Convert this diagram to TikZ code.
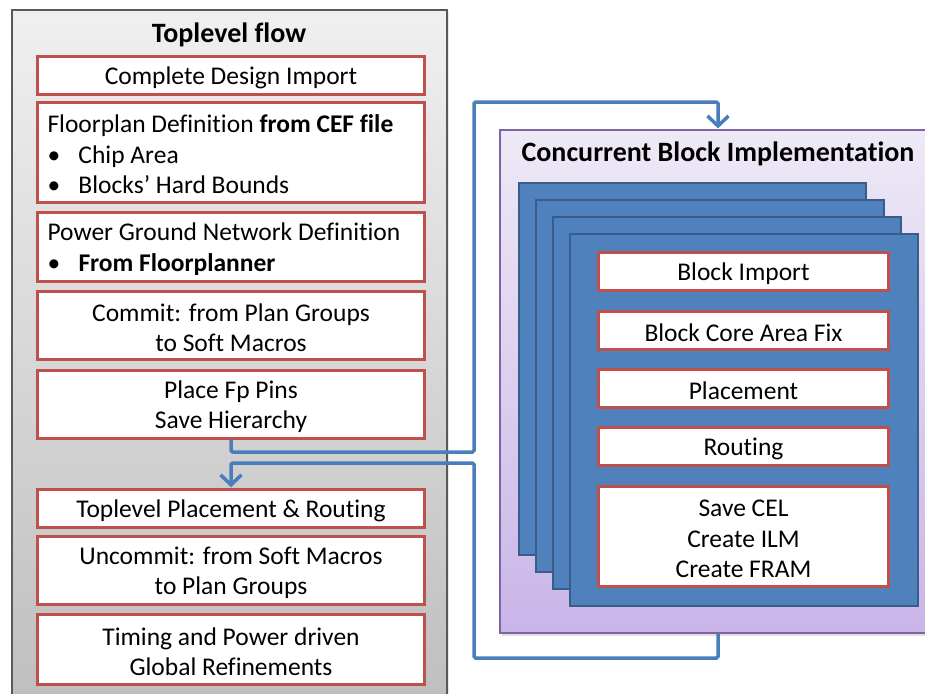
\documentclass[tikz,border=0pt]{standalone}
\usepackage{fontspec}
\setmainfont{Carlito}[Ligatures=NoCommon]
\usetikzlibrary{arrows.meta,shadows}

\definecolor{boxred}{HTML}{C0504D}
\definecolor{blockblue}{HTML}{4F81BD}
\definecolor{blockedge}{HTML}{385D8A}
\definecolor{flowblue}{HTML}{4A7EBB}
\definecolor{panelpurple}{HTML}{8064A2}
\definecolor{panelgray}{HTML}{595959}
\definecolor{lavtop}{HTML}{EEE9F6}
\definecolor{lavbottom}{HTML}{C9B5E8}

\begin{document}
\begin{tikzpicture}[x=1pt,y=-1pt,
  txt/.style={font=\fontsize{25.5}{30.5}\selectfont},
  stepbox/.style={txt, draw=boxred, line width=2.5pt, fill=white,
    inner sep=0pt, align=flush center, text height=22pt},
  wide/.style={minimum width=387pt, text width=367pt},
  narrow/.style={minimum width=290pt, text width=270pt},
  leftbox/.style={stepbox, wide, align=flush left},
  titletxt/.style={font=\fontsize{28}{32}\selectfont\bfseries, inner sep=0pt},
  stackbox/.style={draw=blockedge, line width=2pt, fill=blockblue},
  flow/.style={draw=flowblue, line width=3.5pt, rounded corners=1.5pt,
    -{Straight Barb[length=10pt,width=21pt]}, shorten >=1pt},
]
\useasboundingbox (0,0) rectangle (925,693);

% ---------- panels ----------
\node[draw=panelgray, line width=1.5pt, top color=black!6, bottom color=black!26,
  minimum width=435pt, minimum height=720pt, inner sep=0pt,
  drop shadow={opacity=0.18, shadow xshift=2pt, shadow yshift=-1pt}]
  (flowpanel) at (229.5,370) {};
\node[titletxt] (flowtitle) at (229,34.5) {Toplevel flow};

\node[draw=panelpurple, line width=1.2pt, top color=lavtop, bottom color=lavbottom,
  minimum width=436pt, minimum height=503pt, inner sep=0pt,
  drop shadow={opacity=0.25, shadow xshift=2pt, shadow yshift=-3pt}]
  (cbi) at (718,381.5) {};
\node[titletxt] (cbititle) at (718,154) {Concurrent Block Implementation};

% ---------- toplevel steps ----------
\node[stepbox, wide, minimum height=38pt] (import) at (231,75.5)
  {Complete Design Import};
\node[leftbox, minimum height=100pt] (floorplan) at (231,152.5)
  {Floorplan Definition \textbf{from CEF file}\\
   \makebox[31pt][l]{•}Chip Area\\
   \makebox[31pt][l]{•}Blocks’ Hard Bounds};
\node[leftbox, minimum height=69pt] (pgnet) at (231,247)
  {Power Ground Network Definition\\
   \makebox[31pt][l]{•}\textbf{From Floorplanner}};
\node[stepbox, wide, minimum height=68pt] (commit) at (231,325.5)
  {Commit: from Plan Groups\\to Soft Macros};
\node[stepbox, wide, minimum height=68pt] (place) at (231,404.5)
  {Place Fp Pins\\Save Hierarchy};
\node[stepbox, wide, minimum height=38pt] (toplevel) at (231,508.5)
  {Toplevel Placement \& Routing};
\node[stepbox, wide, minimum height=68pt] (uncommit) at (231,570.5)
  {Uncommit: from Soft Macros\\to Plan Groups};
\node[stepbox, wide, minimum height=70pt] (refine) at (231,649.5)
  {Timing and Power driven\\Global Refinements};

% ---------- stacked block layers ----------
\path[stackbox] (519,183) rectangle (866,555);
\path[stackbox] (536,200) rectangle (884,572);
\path[stackbox] (553,217) rectangle (901,589);
\path[stackbox] (570,234) rectangle (918,606);

% ---------- block steps ----------
\node[stepbox, narrow, minimum height=38pt] (bimport) at (743.5,271.5)
  {Block Import};
\node[stepbox, narrow, minimum height=38pt] (corefix) at (743.5,330.5)
  {Block Core Area Fix};
\node[stepbox, narrow, minimum height=38pt] (bplace) at (743.5,388.5)
  {Placement};
\node[stepbox, narrow, minimum height=38pt] (broute) at (743.5,446.5)
  {Routing};
\node[stepbox, narrow, minimum height=100pt] (bsave) at (743.5,536.5)
  {Save CEL\\Create ILM\\Create FRAM};

% ---------- connectors ----------
\draw[flow] (place.south) |- (474,452) |- (718,102) -- (cbi.north);
\draw[flow] (cbi.south) |- (474,658) |- (231,463) -- (toplevel.north);
\end{tikzpicture}
\end{document}
